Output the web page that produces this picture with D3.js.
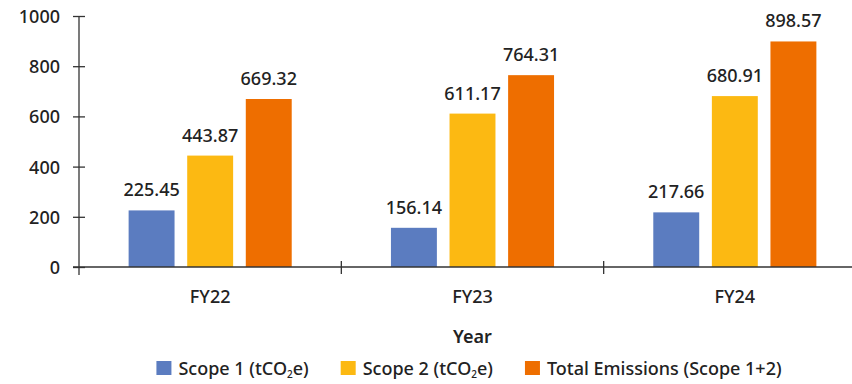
<!DOCTYPE html>
<html>
<head>
<meta charset="utf-8">
<script src="https://cdn.jsdelivr.net/npm/d3@7"></script>
<style>
  html, body { margin: 0; padding: 0; background: #fff; }
  svg { display: block; font-family: "Noto Sans", "Open Sans", sans-serif; }
</style>
</head>
<body>
<svg id="chart" width="852" height="384"></svg>
<script>
// Emissions by financial year
const years = ["FY22", "FY23", "FY24"];
const seriesNames = ["scope1", "scope2", "total"];
const scope1 = [225.45, 156.14, 217.66];
const scope2 = [443.87, 611.17, 680.91];
const totalEmissions = [669.32, 764.31, 898.57];
const yTicks = [0, 200, 400, 600, 800, 1000];
const colors = ["#5b7cc0", "#fcb912", "#ee6e00"];
const axisTitle = "Year";

const seriesValues = [scope1, scope2, totalEmissions];

const svg = d3.select("#chart");
const textColor = "#222";
const axisColor = "#333";
const fontSize = 18;

const plotLeft = 79, plotRight = 866, plotTop = 16, plotBottom = 267;

const x = d3.scaleBand().domain(years).range([plotLeft, plotRight]).paddingInner(0).paddingOuter(0);
const xs = d3.scaleBand().domain(seriesNames).range([0, x.bandwidth()])
  .paddingInner(0.216).paddingOuter(0.847);
const y = d3.scaleLinear().domain([0, 1000]).range([plotBottom, plotTop]);

// y axis
const yAxis = svg.append("g")
  .attr("transform", `translate(${plotLeft},0)`)
  .call(d3.axisLeft(y).tickValues(yTicks).tickFormat(d3.format("d"))
    .tickSize(6).tickPadding(13).tickSizeOuter(0));
yAxis.select(".domain").remove();
yAxis.selectAll(".tick line").attr("x1", -6).attr("x2", 6).attr("stroke", axisColor).attr("stroke-width", 1.3);
yAxis.selectAll(".tick text")
  .attr("fill", textColor).attr("font-size", fontSize).attr("font-weight", 500)
  .attr("font-family", "'Noto Sans', sans-serif").attr("dy", "0.36em");
svg.append("line")
  .attr("x1", plotLeft).attr("x2", plotLeft).attr("y1", y(1000)).attr("y2", plotBottom + 8)
  .attr("stroke", axisColor).attr("stroke-width", 1.3);

// bars
const groups = svg.append("g").selectAll("g")
  .data(years)
  .join("g")
  .attr("transform", d => `translate(${x(d)},0)`);

const rowsFor = i => seriesNames.map((s, j) => ({ s, j, v: seriesValues[j][i] }));

groups.selectAll("rect")
  .data((d, i) => rowsFor(i))
  .join("rect")
  .attr("x", d => xs(d.s))
  .attr("width", xs.bandwidth())
  .attr("y", d => y(d.v))
  .attr("height", d => plotBottom - y(d.v))
  .attr("fill", d => colors[d.j]);

groups.selectAll("text.value")
  .data((d, i) => rowsFor(i))
  .join("text")
  .attr("class", "value")
  .attr("x", d => xs(d.s) + xs.bandwidth() / 2)
  .attr("y", d => y(d.v) - 14)
  .attr("text-anchor", "middle")
  .attr("fill", textColor)
  .attr("font-size", fontSize)
  .attr("font-weight", 500)
  .text(d => d.v.toFixed(2));

// x axis
svg.append("line")
  .attr("x1", plotLeft - 6).attr("x2", 852).attr("y1", plotBottom).attr("y2", plotBottom)
  .attr("stroke", axisColor).attr("stroke-width", 1.3);
svg.append("g").selectAll("line")
  .data(years)
  .join("line")
  .attr("x1", d => x(d) + x.step()).attr("x2", d => x(d) + x.step())
  .attr("y1", plotBottom - 6).attr("y2", plotBottom + 7)
  .attr("stroke", axisColor).attr("stroke-width", 1.3);

svg.append("g").selectAll("text")
  .data(years)
  .join("text")
  .attr("x", d => x(d) + x.bandwidth() / 2)
  .attr("y", 303)
  .attr("text-anchor", "middle")
  .attr("fill", textColor)
  .attr("font-size", fontSize)
  .attr("font-weight", 500)
  .text(d => d);

svg.append("text")
  .attr("x", (plotLeft + plotRight) / 2)
  .attr("y", 343)
  .attr("text-anchor", "middle")
  .attr("fill", textColor)
  .attr("font-size", fontSize)
  .attr("font-weight", 600)
  .text(axisTitle);

// legend
const legendItems = [
  { parts: [["Scope 1 (tCO", false], ["2", true], ["e)", false]], color: colors[0] },
  { parts: [["Scope 2 (tCO", false], ["2", true], ["e)", false]], color: colors[1] },
  { parts: [["Total Emissions (Scope 1+2)", false]], color: colors[2] }
];
const legend = svg.append("g");
const legendY = 375;
const sw = 15, swGap = 7, itemGap = 32;
let cursor = 0;
const items = legend.selectAll("g").data(legendItems).join("g");
items.each(function (d) {
  const g = d3.select(this);
  g.append("rect").attr("x", 0).attr("y", legendY - 14).attr("width", sw).attr("height", 14).attr("fill", d.color);
  const t = g.append("text").attr("x", sw + swGap).attr("y", legendY)
    .attr("fill", textColor).attr("font-size", fontSize).attr("font-weight", 500);
  d.parts.forEach(([s, sub], k) => {
    const ts = t.append("tspan").text(s);
    if (sub) ts.attr("font-size", 10).attr("dy", 3);
    else if (k > 0) ts.attr("dy", -3);
  });
  g.attr("transform", `translate(${cursor},0)`);
  cursor += sw + swGap + t.node().getComputedTextLength() + itemGap;
});
const legendWidth = cursor - itemGap;
legend.attr("transform", `translate(${469 - legendWidth / 2},0)`);
</script>
</body>
</html>
